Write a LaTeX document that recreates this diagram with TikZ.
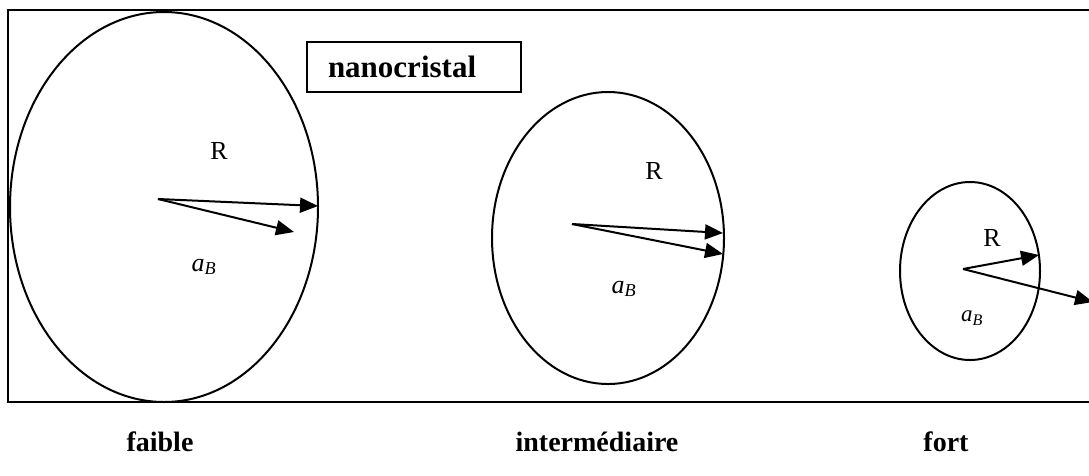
\documentclass[tikz,border=0pt]{standalone}
\usepackage{fontspec}
\setmainfont{Liberation Serif}
\usetikzlibrary{arrows.meta}
\tikzset{
  ln/.style={line width=2pt},
  vec/.style={line width=2pt,-{Triangle[length=18pt,width=15pt]}},
  lbl/.style={font=\fontsize{26}{28}\selectfont, inner sep=0pt},
  sublbl/.style={font=\fontsize{26}{28}\selectfont\itshape, inner sep=0pt},
  captxt/.style={font=\fontsize{28}{30}\selectfont\bfseries, inner sep=0pt},
}
\begin{document}
\begin{tikzpicture}[x=1pt,y=-1pt]
\useasboundingbox (0,0) rectangle (1089,475);
% frame (open on the right)
\draw[ln] (1092,10) -- (8,10) -- (8,402) -- (1092,402);
% ellipses
\draw[ln] (164,207) ellipse [x radius=154, y radius=195];
\draw[ln] (608,238) ellipse [x radius=116, y radius=146];
\draw[ln] (970,271) ellipse [x radius=70, y radius=89];
% coordinates
\coordinate (c1) at (158,199);
\coordinate (r1) at (318,206);
\coordinate (b1) at (294,232);
\coordinate (c2) at (572,224);
\coordinate (r2) at (723,233);
\coordinate (b2) at (723,254);
\coordinate (c3) at (963,269);
\coordinate (r3) at (1039,255);
\coordinate (b3) at (1093,302);
\draw[vec] (c1) -- (r1);
\draw[vec] (c1) -- (b1);
\draw[vec] (c2) -- (r2);
\draw[vec] (c2) -- (b2);
\draw[vec] (c3) -- (r3);
\draw[vec] (c3) -- (b3);
% labels
\node[lbl] (R1) at (219,151) {R};
\node[sublbl] (a1) at (204,267) {a\textsubscript{B}};
\node[lbl] (R2) at (654,171) {R};
\node[sublbl] (a2) at (624,289) {a\textsubscript{B}};
\node[lbl] (R3) at (992,238) {R};
\node[sublbl,font=\fontsize{23}{25}\selectfont\itshape] (a3) at (972,318) {a\textsubscript{B}};
% nanocristal box
\node[draw, line width=2pt, minimum width=214pt, minimum height=50pt, text width=172pt, align=left, inner xsep=20pt, font=\fontsize{31}{33}\selectfont\bfseries] (nano) at (414,67) {\raisebox{-3pt}{nanocristal}};
% captions
\node[captxt] (f1) at (160,442) {faible};
\node[captxt] (f2) at (597,442) {intermédiaire};
\node[captxt] (f3) at (946,442) {fort};
\end{tikzpicture}
\end{document}
